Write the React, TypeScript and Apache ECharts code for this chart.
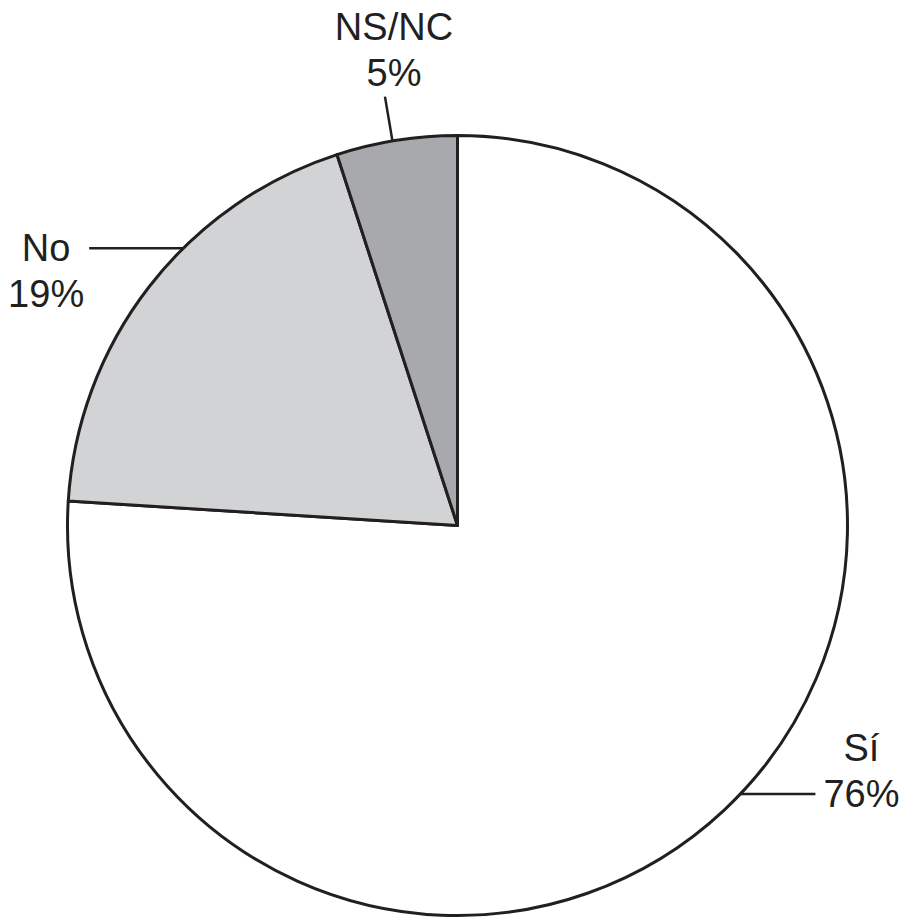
import React, { useEffect, useRef } from "react";
import * as echarts from "echarts";

const categories = ["Sí", "No", "NS/NC"];
const values = [76, 19, 5];
const sliceColors = ["#ffffff", "#d1d3d4", "#a7a9ac"];

const CX = 457.5;
const CY = 525.5;
const R = 390;
const FS = 38;
const LH = 46;
const INK = "#231f20";

export default function App() {
  const ref = useRef<HTMLDivElement>(null);
  useEffect(() => {
    const el = ref.current!;
    const chart = echarts.init(el, null, { renderer: "svg" });
    const total = values.reduce((a, b) => a + b, 0);
    const midAngle = (i: number) => {
      let s = 0;
      for (let k = 0; k < i; k++) s += values[k];
      return ((s + values[i] / 2) / total) * 360;
    };
    const edge = (deg: number) => {
      const t = (deg * Math.PI) / 180;
      return [CX + R * Math.sin(t), CY - R * Math.cos(t)];
    };
    const labelLayout = (p: any) => {
      const i = p.dataIndex;
      const w = p.labelRect.width;
      if (i === 0) {
        const a = edge(midAngle(0) - 3.3);
        const b = [a[0] + 75, a[1]];
        return {
          x: b[0] + 8 + w / 2,
          y: b[1] - LH / 2,
          align: "center",
          verticalAlign: "middle",
          labelLinePoints: [a, [(a[0] + b[0]) / 2, a[1]], b],
        };
      }
      if (i === 1) {
        const a = edge(midAngle(1) + 7.5);
        const b = [a[0] - 94, a[1]];
        return {
          x: b[0] - 5 - w / 2,
          y: b[1] + LH / 2,
          align: "center",
          verticalAlign: "middle",
          labelLinePoints: [a, [(a[0] + b[0]) / 2, a[1]], b],
        };
      }
      const ang = midAngle(2) - 0.6;
      const a = edge(ang);
      const t = (ang * Math.PI) / 180;
      const b = [a[0] + 45 * Math.sin(t), a[1] - 45 * Math.cos(t)];
      return {
        x: b[0] + 9,
        y: b[1] - 1,
        align: "center",
        verticalAlign: "bottom",
        labelLinePoints: [a, [(a[0] + b[0]) / 2, (a[1] + b[1]) / 2], b],
      };
    };
    chart.setOption({
      animation: false,
      backgroundColor: "#ffffff",
      series: [
        {
          type: "pie",
          center: [CX, CY],
          radius: R,
          startAngle: 90,
          clockwise: true,
          avoidLabelOverlap: false,
          emphasis: { disabled: true },
          itemStyle: { borderColor: INK, borderWidth: 3 },
          label: {
            show: true,
            position: "outside",
            formatter: "{b}\n{c}%",
            fontSize: FS,
            lineHeight: LH,
            fontFamily: "'Liberation Sans', Arial, Helvetica, sans-serif",
            color: INK,
            align: "center",
          },
          labelLine: {
            show: true,
            length: 10,
            length2: 10,
            smooth: false,
            lineStyle: { color: INK, width: 2.5 },
          },
          labelLayout,
          data: categories.map((name, i) => ({
            name,
            value: values[i],
            itemStyle: { color: sliceColors[i] },
          })),
        },
      ],
    });
    return () => chart.dispose();
  }, []);
  return (
    <div
      ref={ref}
      style={{ position: "absolute", left: 0, top: 0, width: 906, height: 918, background: "#fff" }}
    />
  );
}
